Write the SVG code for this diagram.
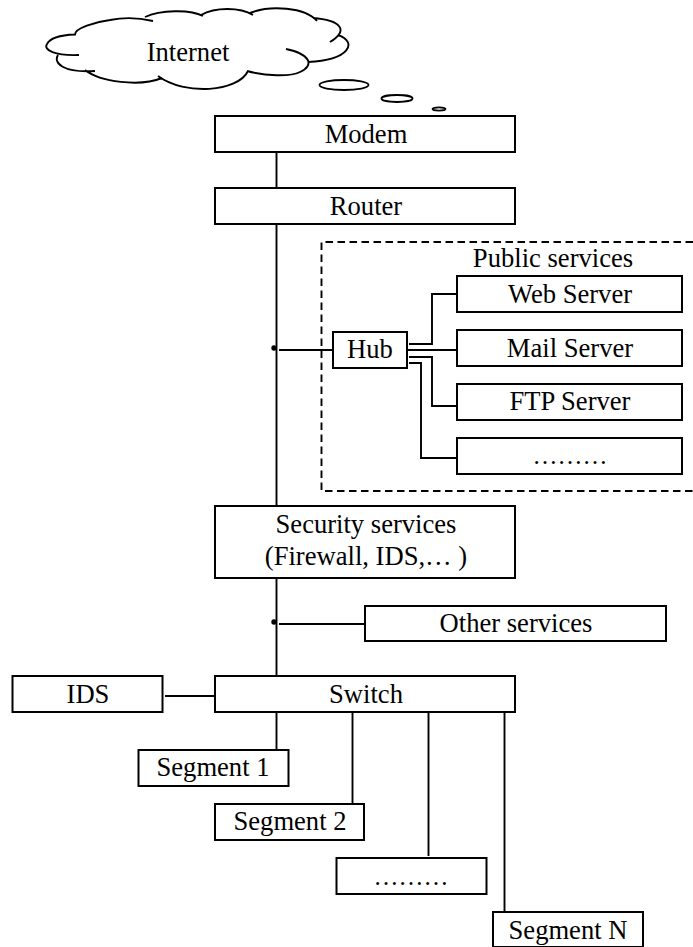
<svg xmlns="http://www.w3.org/2000/svg" width="693" height="947" viewBox="0 0 693 947">
<style>
.box{fill:#fff;stroke:#000;stroke-width:2}
.ln{fill:none;stroke:#000;stroke-width:1.9}
.ell{fill:#fff;stroke:#000;stroke-width:1.8}
text{font-family:"Liberation Serif","Times New Roman",serif;font-size:26.6px;fill:#000;text-anchor:middle}
.thin{font-size:25px}
</style>
<rect width="693" height="947" fill="#fff"/>
<g id="connectors">
<path class="ln" d="M276.500 152V188M276.500 224V506M276.500 578V676M276.500 712V751M352.500 712V804M428.500 712V856M504.500 712V912M279 350H333M409 344H432V294H457M407 350H457M409 357H432V406H457M409 363H421V458H457M279 624H365M165 696H215"/>
<circle cx="274" cy="348" r="2.700"/>
<circle cx="274" cy="622" r="2.700"/>
</g>
<g id="cloud">
<path class="ln" d="M79 55C55 56 43 50 47 44C50 38 62 35 75 34.500C75 28 95 22 110 20C125 17 140 18 153 21M145 17C160 10 190 9 203 16M201 15C215 7 240 7 253 15M250 13C270 5 305 7 317 21M313 18C340 20 350 30 330 42M338 35C358 42 350 60 308 62M286 49C310 54 315 65 300 72C290 77 265 76 247 71M248 71C238 92 185 96 158 76M162 78C140 87 100 82 85 70M95 71C63 73 53 63 58 55"/>
<text x="188" y="61">Internet</text>
<ellipse class="ell" cx="344" cy="85" rx="24.500" ry="5"/>
<ellipse class="ell" cx="397" cy="98.500" rx="15.500" ry="3.500"/>
<ellipse class="ell" cx="439" cy="109" rx="6.500" ry="1.600"/>
</g>
<g id="public-services">
<path class="ln" stroke-dasharray="7.500 4.500" d="M693 242H321.500V491H693"/>
<text x="553" y="267">Public services</text>
</g>
<g id="modem"><rect class="box" x="215" y="116" width="300" height="36"/><text x="366" y="143">Modem</text></g>
<g id="router"><rect class="box" x="215" y="188" width="300" height="36"/><text x="366" y="215">Router</text></g>
<g id="hub"><rect class="box" x="333" y="332" width="74" height="36"/><text x="370" y="358">Hub</text></g>
<g id="web-server"><rect class="box" x="457" y="276" width="225" height="36"/><text x="570" y="303">Web Server</text></g>
<g id="mail-server"><rect class="box" x="457" y="330" width="225" height="36"/><text x="570" y="357">Mail Server</text></g>
<g id="ftp-server"><rect class="box" x="457" y="384" width="225" height="36"/><text x="570" y="410">FTP Server</text></g>
<g id="more-servers"><rect class="box" x="457" y="438" width="225" height="36"/><text class="thin" x="570" y="464">………</text></g>
<g id="security-services"><rect class="box" x="215" y="506" width="300" height="72"/><text x="366" y="533">Security services</text><text x="366" y="565">(Firewall, IDS,… )</text></g>
<g id="other-services"><rect class="box" x="365" y="606" width="301" height="35"/><text x="516" y="632">Other services</text></g>
<g id="ids"><rect class="box" x="12.500" y="676" width="150" height="36"/><text x="88" y="703">IDS</text></g>
<g id="switch"><rect class="box" x="215" y="676" width="300" height="36"/><text x="366" y="703">Switch</text></g>
<g id="segment-1"><rect class="box" x="138.500" y="750" width="150" height="36"/><text x="213" y="776">Segment 1</text></g>
<g id="segment-2"><rect class="box" x="215" y="804" width="149" height="36"/><text x="290" y="830">Segment 2</text></g>
<g id="segment-dots"><rect class="box" x="336.500" y="858" width="150" height="36"/><text class="thin" x="411" y="885">………</text></g>
<g id="segment-n"><rect class="box" x="493" y="912" width="150" height="35"/><text x="568" y="939">Segment N</text></g>
</svg>
